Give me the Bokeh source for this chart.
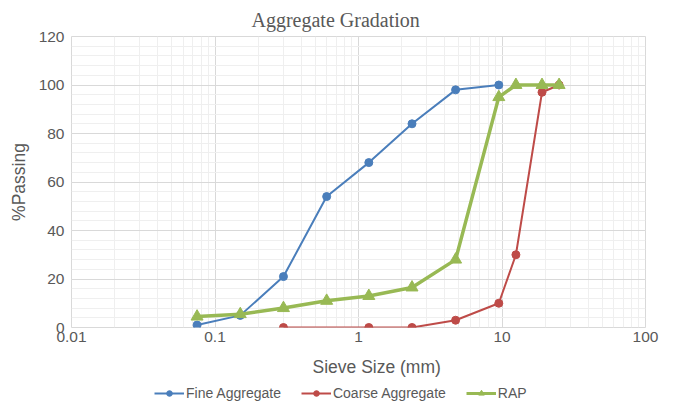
from bokeh.plotting import figure
from bokeh.models import (FixedTicker, SingleIntervalTicker, Legend, LegendItem, Title, Range1d)
from bokeh.layouts import column
from bokeh.embed import file_html
from bokeh.resources import INLINE

# Data
sieve_fine = [0.075, 0.15, 0.3, 0.6, 1.18, 2.36, 4.75, 9.5]
fine_pass = [1, 5, 21, 54, 68, 84, 98, 100]

sieve_coarse = [0.3, 1.18, 2.36, 4.75, 9.5, 12.5, 19, 25]
coarse_pass = [0, 0, 0, 3, 10, 30, 97, 100]

sieve_rap = [0.075, 0.15, 0.3, 0.6, 1.18, 2.36, 4.75, 9.5, 12.5, 19, 25]
rap_pass = [4.5, 5.5, 8, 11, 13, 16.5, 28, 95, 100, 100, 100]

x_ticks = [0.01, 0.1, 1, 10, 100]
x_tick_labels = ["0.01", "0.1", "1", "10", "100"]

series_names = ["Fine Aggregate", "Coarse Aggregate", "RAP"]

BLUE = "#4a7ebb"
RED = "#be4b48"
GREEN = "#98b954"
TXT = "#595959"
FONT = "Liberation Sans"

p = figure(frame_width=574, frame_height=291, x_axis_type="log", x_range=(0.01, 100), y_range=(0, 120),
           output_backend="svg", toolbar_location=None,
           min_border_left=0, min_border_right=21, min_border_top=0, min_border_bottom=0)

p.add_layout(Title(text="Aggregate Gradation", align="left", offset=180,
                   text_font="Liberation Serif", text_font_size="20px",
                   text_font_style="normal", text_color=TXT, standoff=12), "above")

minor = [m * 10 ** e for e in range(-2, 2) for m in range(2, 10)]
p.xaxis.ticker = FixedTicker(ticks=x_ticks, minor_ticks=minor)
p.xaxis.major_label_overrides = {t: l for t, l in zip(x_ticks, x_tick_labels)}
p.yaxis.ticker = SingleIntervalTicker(interval=20, num_minor_ticks=5)

for ax in (p.xaxis, p.yaxis):
    ax.axis_line_color = None
    ax.major_tick_line_color = None
    ax.minor_tick_line_color = None
    ax.major_tick_out = 0
    ax.minor_tick_out = 0
    ax.major_label_text_font = FONT
    ax.major_label_text_font_size = "15.5px"
    ax.major_label_text_color = TXT

p.yaxis.major_tick_out = 6
p.xaxis.major_label_standoff = 4
p.yaxis.major_label_standoff = 1

p.add_layout(Title(text="%Passing", align="center",
                   text_font=FONT, text_font_size="17.5px", text_font_style="normal",
                   text_color=TXT, standoff=13), "left")

p.add_layout(Title(text="Sieve Size (mm)", align="left", offset=241,
                   text_font=FONT, text_font_size="17.5px", text_font_style="normal",
                   text_color=TXT, standoff=20), "below")

p.xgrid.grid_line_color = "#d9d9d9"
p.ygrid.grid_line_color = "#d9d9d9"
p.xgrid.minor_grid_line_color = "#efefef"
p.ygrid.minor_grid_line_color = "#efefef"
p.outline_line_color = "#d9d9d9"

styles = [(BLUE, 2, "circle", 8), (RED, 2, "circle", 8), (GREEN, 3.5, "triangle", 12)]
data = [(sieve_fine, fine_pass), (sieve_coarse, coarse_pass), (sieve_rap, rap_pass)]
for (xs, ys), (c, lw, mk, sz) in zip(data, styles):
    p.line(xs, ys, line_color=c, line_width=lw)
    p.scatter(xs, ys, marker=mk, size=sz, fill_color=c, line_color=c)

# Legend strip below the chart (its own renderers lie outside its visible range)
p2 = figure(width=659, height=16, x_range=Range1d(0, 1), y_range=Range1d(-1000, -999),
            output_backend="svg", toolbar_location=None,
            x_axis_location=None, y_axis_location=None,
            min_border=0, outline_line_color=None)
p2.grid.visible = False
items = []
for name, (xs, ys), (c, lw, mk, sz) in zip(series_names, data, styles):
    lr = p2.line(xs, ys, line_color=c, line_width=2 if lw < 3 else 3)
    sr = p2.scatter(xs, ys, marker=mk, size=7 if mk == "circle" else 9, fill_color=c, line_color=c)
    items.append(LegendItem(label=name, renderers=[lr, sr]))

legend = Legend(items=items, orientation="horizontal", location=(83, 1),
                glyph_width=30, glyph_height=14, label_standoff=2, spacing=20,
                label_height=14, padding=0, margin=0, border_line_color=None, background_fill_alpha=0,
                label_text_font=FONT, label_text_font_size="14px", label_text_color=TXT)
p2.add_layout(legend, "center")

layout = column(p, p2, spacing=0)
open("out.html", "w").write(file_html(layout, INLINE))
